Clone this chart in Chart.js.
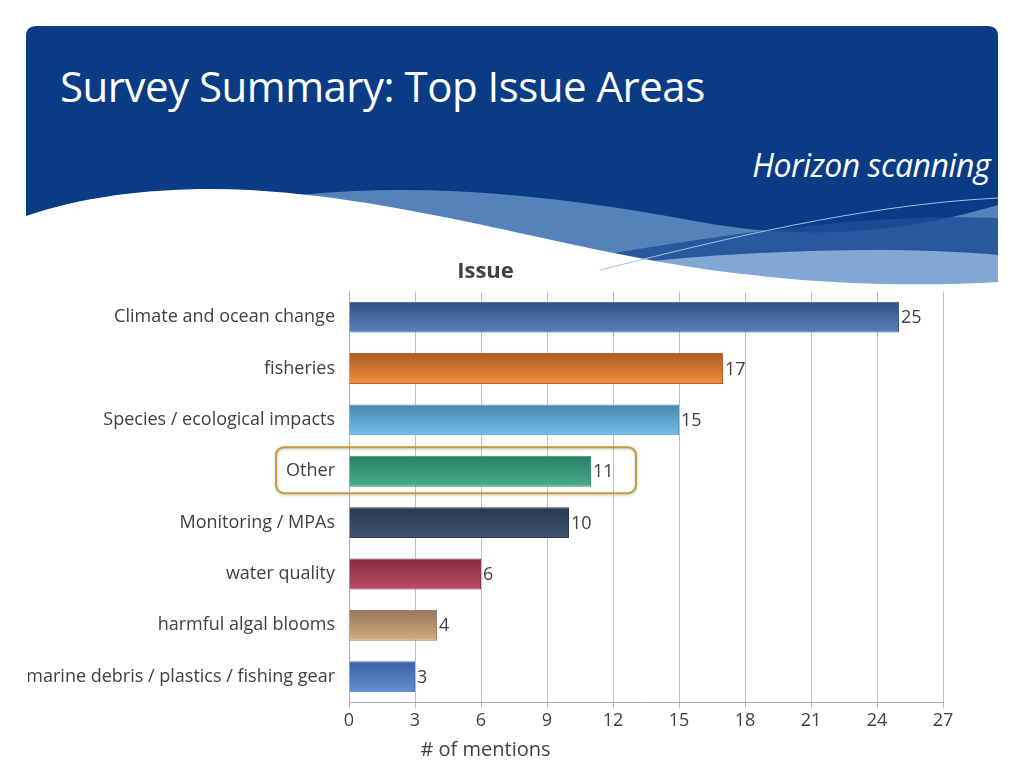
<!DOCTYPE html>
<html>
<head>
<meta charset="utf-8">
<script src="https://cdn.jsdelivr.net/npm/chart.js@4"></script>
<style>
  body { margin: 0; background: #fff; font-family: "Open Sans", Lato, sans-serif; }
  #wrap { position: relative; width: 1024px; height: 768px; overflow: hidden; }
  #hdr { position: absolute; left: 0; top: 0; }
  #title { position: absolute; left: 60px; top: 57px; color: #fff; font-size: 42px; letter-spacing: -0.5px; }
  #sub { position: absolute; right: 34px; top: 143px; color: #fff; font-size: 32px; font-style: italic; letter-spacing: -0.5px; }
  #cv { position: absolute; left: 0; top: 240px; }
</style>
</head>
<body>
<div id="wrap">
  <svg id="hdr" width="1024" height="300">
    <path d="M26,36 Q26,26 36,26 L988,26 Q998,26 998,36 L998,290 L26,290 Z" fill="#0a3c86"/>
    <path d="M300,195 C430,182 560,196 700,222 C820,244 920,228 998,205 L998,290 L300,290 Z" fill="#5482ba"/>
    <path d="M560,262 C700,238 860,212 998,218 L998,290 L560,290 Z" fill="#1d4f95" opacity="0.8"/>
    <path d="M640,262 C760,250 900,246 998,255 L998,290 L640,290 Z" fill="#8bb0da" opacity="0.9"/>
    <path d="M26,216 C90,194 170,186 250,190 C390,198 520,236 660,262 C780,283 900,288 1000,282 L1000,300 L0,300 L0,216 Z" fill="#ffffff"/>
    <path d="M600,270 C720,240 860,205 998,198" stroke="#9fc0e6" stroke-width="1" fill="none"/>
  </svg>
  <div id="title">Survey Summary: Top Issue Areas</div>
  <div id="sub">Horizon scanning</div>
  <canvas id="cv" width="1024" height="528"></canvas>
</div>
<script>
const categories = [
  "Climate and ocean change",
  "fisheries",
  "Species / ecological impacts",
  "Other",
  "Monitoring / MPAs",
  "water quality",
  "harmful algal blooms",
  "marine debris / plastics / fishing gear"
];
const mentions = [25, 17, 15, 11, 10, 6, 4, 3];
const xTicks = [0, 3, 6, 9, 12, 15, 18, 21, 24, 27];

// gradient stops per bar (top, bottom) and border
const topColors = ["#30507f", "#a85a26", "#4a85ad", "#2b7d62", "#28384a", "#842b3f", "#94765a", "#3a60a0"];
const bottomColors = ["#5a80c0", "#f4903a", "#72c0e8", "#4aae8e", "#3f5674", "#b84e5e", "#d6ad84", "#6290d4"];
const borderColors = ["#3a5a90", "#b0662e", "#5a94bd", "#3a927a", "#2a3a4e", "#8e3446", "#a08060", "#4670b0"];

const font = "'Open Sans', Lato, sans-serif";
const padLeft = 28;

const barLabels = {
  id: "barLabels",
  afterDatasetsDraw(chart) {
    const ctx = chart.ctx;
    const meta = chart.getDatasetMeta(0);
    ctx.save();
    ctx.font = "18px " + font;
    ctx.fillStyle = "#404040";
    ctx.textBaseline = "middle";
    ctx.textAlign = "left";
    meta.data.forEach((bar, i) => {
      ctx.fillText(String(mentions[i]), bar.x + 2, bar.y + 1);
    });
    ctx.restore();
  }
};

const highlight = {
  id: "highlight",
  afterDraw(chart) {
    const ctx = chart.ctx;
    const idx = categories.indexOf("Other");
    const y = chart.scales.y.getPixelForValue(idx);
    ctx.save();
    ctx.font = "18px " + font;
    const tw = ctx.measureText(categories[idx]).width;
    const left = chart.scales.y.right - 6 - tw - 18;
    const right = chart.scales.x.getPixelForValue(mentions[idx]) + 45;
    const top = y - 24, h = 46, r = 8;
    ctx.strokeStyle = "#c39a3c";
    ctx.lineWidth = 2;
    ctx.shadowColor = "rgba(0,0,0,0.25)";
    ctx.shadowBlur = 3;
    ctx.shadowOffsetY = 1;
    ctx.beginPath();
    ctx.roundRect(left, top, right - left, h, r);
    ctx.stroke();
    ctx.restore();
  }
};

new Chart(document.getElementById("cv"), {
  type: "bar",
  data: {
    labels: categories,
    datasets: [{
      data: mentions,
      backgroundColor: (c) => {
        const i = c.dataIndex;
        if (i === undefined) return bottomColors[0];
        const chart = c.chart;
        if (!chart.chartArea) return bottomColors[i];
        const y = chart.scales.y.getPixelForValue(i);
        const g = chart.ctx.createLinearGradient(0, y - 16, 0, y + 16);
        g.addColorStop(0, topColors[i]);
        g.addColorStop(1, bottomColors[i]);
        return g;
      },
      borderColor: borderColors,
      borderWidth: 1,
      barPercentage: 0.6,
      categoryPercentage: 1.0
    }]
  },
  options: {
    indexAxis: "y",
    responsive: false,
    animation: false,
    layout: { padding: { left: padLeft, right: 81, top: 0, bottom: 0 } },
    plugins: {
      legend: { display: false },
      tooltip: { enabled: false },
      title: {
        display: true,
        text: "Issue",
        color: "#404040",
        font: { family: font, size: 22, weight: "bold" },
        padding: { top: 19, bottom: 6 }
      },
      subtitle: {
        display: true,
        position: "bottom",
        text: "# of mentions",
        color: "#404040",
        font: { family: font, size: 20 },
        padding: { top: 4, bottom: 6 }
      }
    },
    scales: {
      x: {
        min: 0,
        max: 27,
        afterBuildTicks: (s) => { s.ticks = xTicks.map(v => ({ value: v })); },
        grid: { color: "#c0c0c0", tickLength: 6, drawTicks: true },
        border: { color: "#b0b0b0" },
        ticks: { color: "#404040", font: { family: font, size: 18 }, padding: 2 }
      },
      y: {
        afterFit: (s) => { s.width = 349 - padLeft; },
        grid: { display: false },
        border: { color: "#b0b0b0" },
        ticks: { color: "#404040", font: { family: font, size: 18 }, padding: 6 }
      }
    }
  },
  plugins: [barLabels, highlight]
});
</script>
</body>
</html>
